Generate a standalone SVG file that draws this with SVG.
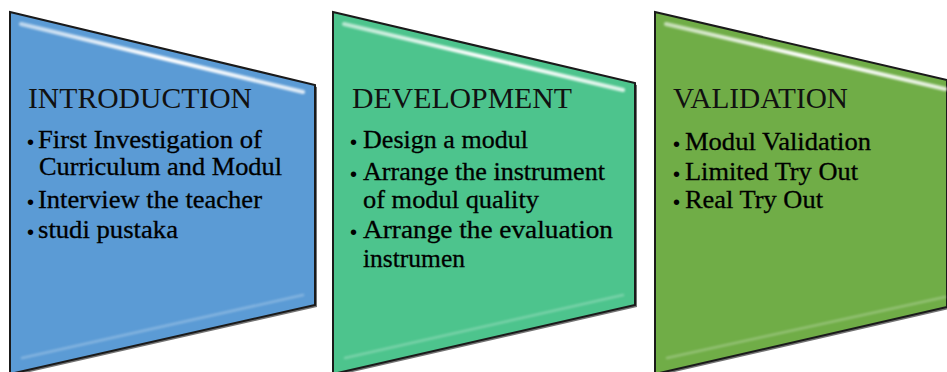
<svg xmlns="http://www.w3.org/2000/svg" width="947" height="372" viewBox="0 0 947 372">
<style>
.panel{stroke:#1a1a1a;stroke-width:2;stroke-linejoin:miter}
.shadow{fill:#000;opacity:0.55}
.hl{fill:none;stroke:#ffffff;stroke-width:4;stroke-linecap:round;filter:url(#soft)}
.hlb{fill:none;stroke:#ffffff;stroke-width:2.5;stroke-linecap:round;opacity:0.25;filter:url(#soft)}
.head{font-family:"Liberation Serif","Times New Roman",serif;font-size:29.5px;fill:#111}
.item{font-family:"Liberation Serif","Times New Roman",serif;font-size:26px;fill:#000;stroke:#000;stroke-width:0.3}
.dot{font-family:"Liberation Sans",Arial,sans-serif;font-size:20px;fill:#000}
</style>
<defs>
<filter id="soft" x="-5%" y="-50%" width="110%" height="200%"><feGaussianBlur stdDeviation="0.8"/></filter>
<linearGradient id="hg" x1="0" y1="0" x2="1" y2="0">
<stop offset="0" stop-color="#fff" stop-opacity="0.6"/>
<stop offset="0.5" stop-color="#fff" stop-opacity="1"/>
<stop offset="1" stop-color="#fff" stop-opacity="0.8"/>
</linearGradient>
</defs>
<rect width="947" height="372" fill="#ffffff"/>

<g id="introduction">
<polygon class="shadow" points="12,14 317,87 317,307 12,376"/>
<polygon class="panel" fill="#5b9bd5" points="10,12 315,85 315,305 10,374"/>
<path class="hl" style="stroke:url(#hg)" d="M21,24 L303,92"/>
<path class="hlb" d="M22,358 L303,295"/>
<path class="hlb" d="M310,95 L310,296"/>
<text class="head" x="28" y="108" textLength="224" lengthAdjust="spacingAndGlyphs">INTRODUCTION</text>
<text class="dot" x="27" y="149">•</text>
<text class="item" x="38" y="148" textLength="224" lengthAdjust="spacingAndGlyphs">First Investigation of</text>
<text class="item" x="39" y="175" textLength="243" lengthAdjust="spacingAndGlyphs">Curriculum and Modul</text>
<text class="dot" x="27" y="209">•</text>
<text class="item" x="38" y="208" textLength="224" lengthAdjust="spacingAndGlyphs">Interview the teacher</text>
<text class="dot" x="27" y="239">•</text>
<text class="item" x="38" y="238" textLength="140" lengthAdjust="spacingAndGlyphs">studi pustaka</text>
</g>

<g id="development">
<polygon class="shadow" points="335,14 637,85 637,307 335,376"/>
<polygon class="panel" fill="#4dc48d" points="333,12 635,83 635,305 333,374"/>
<path class="hl" style="stroke:url(#hg)" d="M344,24 L623,90"/>
<path class="hlb" d="M345,358 L623,295"/>
<path class="hlb" d="M630,93 L630,296"/>
<text class="head" x="352" y="108" textLength="220" lengthAdjust="spacingAndGlyphs">DEVELOPMENT</text>
<text class="dot" x="350" y="149">•</text>
<text class="item" x="363" y="148" textLength="165" lengthAdjust="spacingAndGlyphs">Design a modul</text>
<text class="dot" x="350" y="181">•</text>
<text class="item" x="363" y="180" textLength="242" lengthAdjust="spacingAndGlyphs">Arrange the instrument</text>
<text class="item" x="363" y="208" textLength="176" lengthAdjust="spacingAndGlyphs">of modul quality</text>
<text class="dot" x="350" y="239">•</text>
<text class="item" x="363" y="238" textLength="250" lengthAdjust="spacingAndGlyphs">Arrange the  evaluation</text>
<text class="item" x="363" y="267" textLength="102" lengthAdjust="spacingAndGlyphs">instrumen</text>
</g>

<g id="validation">
<polygon class="shadow" points="657,14 949,82 949,309 657,376"/>
<polygon class="panel" fill="#70ad47" points="655,12 947,80 947,307 655,374"/>
<path class="hl" style="stroke:url(#hg)" d="M666,24 L945,89"/>
<path class="hlb" d="M667,358 L945,297"/>
<text class="head" x="673" y="108" textLength="175" lengthAdjust="spacingAndGlyphs">VALIDATION</text>
<text class="dot" x="673" y="151">•</text>
<text class="item" x="685" y="150" textLength="186" lengthAdjust="spacingAndGlyphs">Modul Validation</text>
<text class="dot" x="673" y="181">•</text>
<text class="item" x="685" y="180" textLength="173" lengthAdjust="spacingAndGlyphs">Limited Try Out</text>
<text class="dot" x="673" y="209">•</text>
<text class="item" x="685" y="208" textLength="138" lengthAdjust="spacingAndGlyphs">Real Try Out</text>
</g>

<g id="connectors"/>
</svg>
